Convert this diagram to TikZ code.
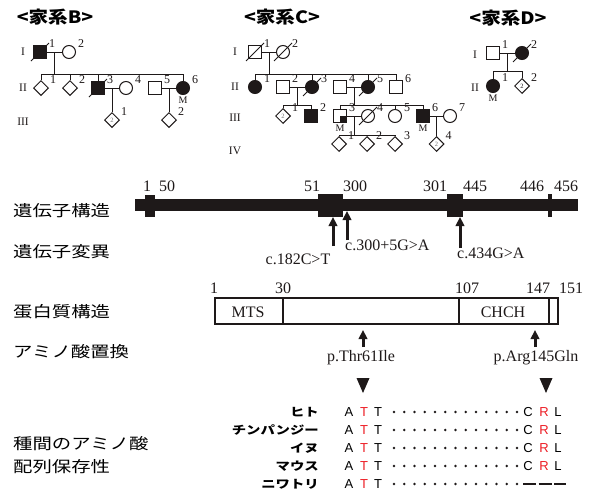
\documentclass[tikz,border=0pt]{standalone}
\usepackage{fontspec}
\setmainfont{Liberation Serif}
\newfontfamily\jp[FakeStretch=1.25]{Noto Sans CJK JP}
\newfontfamily\jpt[FakeStretch=1.15]{Noto Sans CJK JP}
\newfontfamily\arial{Liberation Sans}
\usetikzlibrary{shapes.geometric,arrows.meta,calc}
\definecolor{ink}{RGB}{30,25,25}
\definecolor{ared}{RGB}{237,28,36}
\tikzset{
  ped/.style={line width=0.9pt, draw=ink},
  sym/.style={draw=ink, line width=1pt, inner sep=0pt, fill=white},
  sq/.style={sym, minimum size=12.5pt},
  ci/.style={sym, circle, minimum size=13pt},
  di/.style={sym, diamond, minimum size=15pt, font=\fontsize{6.5}{6.5}\selectfont, text=black!55},
  aff/.style={fill=ink},
  num/.style={font=\fontsize{12}{12}\selectfont, inner sep=0pt, text=ink},
  rom/.style={font=\fontsize{11.5}{11.5}\selectfont, inner sep=0pt, text=ink},
  mk/.style={font=\fontsize{10}{10}\selectfont, inner sep=0pt, text=ink},
  ttl/.style={font=\jpt\bfseries\fontsize{17}{17}\selectfont, inner sep=0pt},
  rowlab/.style={font=\jp\fontsize{15.5}{15.5}\selectfont, inner sep=0pt, anchor=west},
  gnum/.style={font=\fontsize{16}{16}\selectfont, inner sep=0pt, text=ink},
  mut/.style={font=\fontsize{16}{16}\selectfont, inner sep=0pt, text=ink},
  arr/.style={-{Triangle[length=9pt,width=8.5pt]}, line width=3pt, draw=ink},
  pbox/.style={draw=ink, line width=1.7pt},
  sp/.style={font=\jp\bfseries\fontsize{11.5}{11.5}\selectfont, inner sep=0pt, anchor=east},
  aa/.style={font=\arial\fontsize{13}{13}\selectfont, inner sep=0pt},
}
\newcommand\pn[2]{\node[num,anchor=west] at ([shift={(9,-8)}]#1.center) {#2};}
\newcommand\dec[1]{\draw[line width=1pt, ink] ([shift={(-9,9)}]#1.center) -- ([shift={(9,-9)}]#1.center);}
\newcommand\mm[1]{\node[mk] at ([shift={(0,12.5)}]#1.center) {M};}
\begin{document}
\begin{tikzpicture}[x=1pt,y=-1pt]
\useasboundingbox (0,0) rectangle (599,493);
\fill[white] (0,0) rectangle (599,493);

% ---------------- titles
\node[ttl] (tB) at (55,17) {<家系B>};
\node[ttl] (tC) at (282,17) {<家系C>};
\node[ttl] (tD) at (508,18) {<家系D>};

% ---------------- Pedigree B
\node[rom] (rBI) at (23,52) {I};
\node[rom] (rBII) at (23,88) {II};
\node[rom] (rBIII) at (23,122) {III};
\coordinate (sB) at (0,74);
\node[sq,aff] (B11) at (40,52) {};
\node[ci] (B12) at (69,52) {};
\node[di] (B21) at (41,88) {};
\node[di] (B22) at (70,88) {};
\node[sq,aff] (B23) at (98,88) {};
\node[ci] (B24) at (126,88) {};
\node[sq] (B25) at (155,88) {};
\node[ci,aff] (B26) at (183,88) {};
\node[di] (B31) at (112,120) {2};
\node[di] (B32) at (169,120) {};
\coordinate (mB1) at ($(B11)!.5!(B12)$);
\coordinate (mB2) at ($(B23)!.5!(B24)$);
\coordinate (mB3) at ($(B25)!.5!(B26)$);
\draw[ped] (B11) -- (B12);
\draw[ped] (B23) -- (B24);
\draw[ped] (B25) -- (B26);
\draw[ped] (mB1) -- (mB1|-sB);
\draw[ped] (B21.north) -- (B21|-sB) -- (B26|-sB) -- (B26.north);
\draw[ped] (B22.north) -- (B22|-sB);
\draw[ped] (B23.north) -- (B23|-sB);
\draw[ped] (mB2) -- (B31.north);
\draw[ped] (mB3) -- (B32.north);
\dec{B11}\dec{B23}
\pn{B11}{1}\pn{B12}{2}
\pn{B21}{1}\pn{B22}{2}\pn{B23}{3}\pn{B24}{4}\pn{B25}{5}\pn{B26}{6}
\pn{B31}{1}\pn{B32}{2}
\mm{B26}

% ---------------- Pedigree C
\node[rom] (rCI) at (235,52) {I};
\node[rom] (rCII) at (235,87) {II};
\node[rom] (rCIII) at (235,118) {III};
\node[rom] (rCIV) at (235,151) {IV};
\coordinate (sC1) at (0,74);
\coordinate (sC2) at (0,105);
\coordinate (sC3) at (0,135);
\node[sq] (C11) at (255,52) {};
\node[ci] (C12) at (283,52) {};
\node[ci,aff] (C21) at (255,87) {};
\node[sq] (C22) at (283,87) {};
\node[ci,aff] (C23) at (312,87) {};
\node[sq] (C24) at (340,87) {};
\node[ci,aff] (C25) at (368,87) {};
\node[sq] (C26) at (396,87) {};
\node[di] (C31) at (283,116) {2};
\node[sq,aff] (C32) at (311,116) {};
\node[sq] (C33) at (340,116) {};
\fill[ink] (C33.center) rectangle (C33.south east);
\node[ci] (C34) at (368,116) {};
\node[ci] (C35) at (395,116) {};
\node[sq,aff] (C36) at (423,116) {};
\node[ci] (C37) at (450,116) {};
\node[di] (C41) at (339,144) {};
\node[di] (C42) at (367,144) {};
\node[di] (C43) at (395,144) {};
\node[di] (C44) at (436.5,144) {2};
\coordinate (mC1) at ($(C11)!.5!(C12)$);
\coordinate (mC2) at ($(C22)!.5!(C23)$);
\coordinate (mC3) at ($(C24)!.5!(C25)$);
\coordinate (mC4) at ($(C33)!.5!(C34)$);
\coordinate (mC5) at ($(C36)!.5!(C37)$);
\draw[ped] (C11) -- (C12);
\draw[ped] (C22) -- (C23);
\draw[ped] (C24) -- (C25);
\draw[ped] (C33) -- (C34);
\draw[ped] (C36) -- (C37);
\draw[ped] (mC1) -- (mC1|-sC1);
\draw[ped] (C21.north) -- (C21|-sC1) -- (C26|-sC1) -- (C26.north);
\draw[ped] (C23.north) -- (C23|-sC1);
\draw[ped] (C25.north) -- (C25|-sC1);
\draw[ped] (mC2) -- (mC2|-sC2);
\draw[ped] (C31.north) -- (C31|-sC2) -- (C32|-sC2) -- (C32.north);
\draw[ped] (mC3) -- (mC3|-sC2);
\draw[ped] (C33.north) -- (C33|-sC2) -- (C36|-sC2) -- (C36.north);
\draw[ped] (C35.north) -- (C35|-sC2);
\draw[ped] (mC4) -- (mC4|-sC3);
\draw[ped] (C41.north) -- (C41|-sC3) -- (C43|-sC3) -- (C43.north);
\draw[ped] (C42.north) -- (C42|-sC3);
\draw[ped] (mC5) -- (C44.north);
\dec{C11}\dec{C12}\dec{C23}\dec{C25}\dec{C34}
\pn{C11}{1}\pn{C12}{2}
\pn{C21}{1}\pn{C22}{2}\pn{C23}{3}\pn{C24}{4}\pn{C25}{5}\pn{C26}{6}
\pn{C31}{1}\pn{C32}{2}\pn{C33}{3}\pn{C34}{4}\pn{C35}{5}\pn{C36}{6}\pn{C37}{7}
\pn{C41}{1}\pn{C42}{2}\pn{C43}{3}\pn{C44}{4}
\mm{C33}\mm{C36}

% ---------------- Pedigree D
\node[rom] (rDI) at (475,55) {I};
\node[rom] (rDII) at (475,88) {II};
\coordinate (sD) at (0,71);
\node[sq] (D11) at (493,53) {};
\node[ci,aff] (D12) at (522,53) {};
\node[ci,aff] (D21) at (493,86) {};
\node[di, text=ink] (D22) at (522,86) {2};
\coordinate (mD1) at ($(D11)!.5!(D12)$);
\draw[ped] (D11) -- (D12);
\draw[ped] (mD1) -- (mD1|-sD);
\draw[ped] (D21.north) -- (D21|-sD) -- (D22|-sD) -- (D22.north);
\dec{D12}
\pn{D11}{1}\pn{D12}{2}\pn{D21}{1}\pn{D22}{2}
\mm{D21}

% ---------------- row labels
\node[rowlab] (L1) at (13,211) {遺伝子構造};
\node[rowlab] (L2) at (13,252) {遺伝子変異};
\node[rowlab] (L3) at (13,312) {蛋白質構造};
\node[rowlab] (L4) at (13,352) {アミノ酸置換};
\node[rowlab] (L5) at (13,444) {種間のアミノ酸};
\node[rowlab] (L6) at (13,467) {配列保存性};

% ---------------- gene structure
\fill[ink] (135,199) rectangle (578,211);
\fill[ink] (145,195) rectangle (155,217);
\fill[ink] (318,194) rectangle (343,217);
\fill[ink] (447,194) rectangle (463,217);
\fill[ink] (548,194) rectangle (552,217);
\node[gnum] (g1) at (147,186) {1};
\node[gnum] (g50) at (167,186) {50};
\node[gnum] (g51) at (312,186) {51};
\node[gnum] (g300) at (355,186) {300};
\node[gnum] (g301) at (435,186) {301};
\node[gnum] (g445) at (475,186) {445};
\node[gnum] (g446) at (532,186) {446};
\node[gnum] (g456) at (566,186) {456};
\coordinate (a1t) at (333,217); \coordinate (a1b) at (333,246);
\coordinate (a2t) at (347,211); \coordinate (a2b) at (347,240);
\coordinate (a3t) at (460,217); \coordinate (a3b) at (460,248);
\draw[arr] (a1b) -- (a1t);
\draw[arr] (a2b) -- (a2t);
\draw[arr] (a3b) -- (a3t);
\node[mut] (m1) at (298,259) {c.182C>T};
\node[mut, anchor=west] (m2) at (345,245) {c.300+5G>A};
\node[mut, anchor=west] (m3) at (457,253) {c.434G>A};

% ---------------- protein structure
\draw[pbox] (215,298) rectangle (558,324);
\draw[pbox] (283,298) -- (283,324);
\draw[pbox] (459,298) -- (459,324);
\draw[pbox] (549,298) -- (549,324);
\node[gnum] (MTS) at (248,312) {MTS};
\node[gnum] (CHCH) at (503,312) {CHCH};
\node[gnum] (p1) at (214,288) {1};
\node[gnum] (p30) at (283,288) {30};
\node[gnum] (p107) at (467,288) {107};
\node[gnum] (p147) at (538,288) {147};
\node[gnum] (p151) at (571,288) {151};
\coordinate (b1t) at (363,330); \coordinate (b1b) at (363,347);
\coordinate (b2t) at (535,330); \coordinate (b2b) at (535,347);
\draw[arr] (b1b) -- (b1t);
\draw[arr] (b2b) -- (b2t);
\node[mut] (s1) at (361,358) {p.Thr61Ile};
\node[mut] (s2) at (536,358) {p.Arg145Gln};

% ---------------- alignment
\fill[ink] (356.5,378) -- (369.5,378) -- (363,393) -- cycle;
\fill[ink] (539.5,378) -- (552.5,378) -- (546,393) -- cycle;
\foreach \nm/\yy in {ヒト/412, チンパンジー/430, イヌ/448, マウス/466, ニワトリ/484}{
  \node[sp] at (319,\yy) {\nm};
  \node[aa] at (349,\yy) {A};
  \node[aa, text=ared] at (364,\yy) {T};
  \node[aa] at (378,\yy) {T};
  \foreach \i in {0,...,12}{\fill[ink] (394+10.25*\i,\yy) circle (1.3);}
}
\foreach \yy in {412,430,448,466}{
  \node[aa] at (528,\yy) {C};
  \node[aa, text=ared] at (544,\yy) {R};
  \node[aa] at (558,\yy) {L};
}
\draw[ink, line width=1.3pt] (523,484) -- (536,484);
\draw[ink, line width=1.3pt] (538.5,484) -- (551.5,484);
\draw[ink, line width=1.3pt] (554,484) -- (566,484);
\end{tikzpicture}
\end{document}
